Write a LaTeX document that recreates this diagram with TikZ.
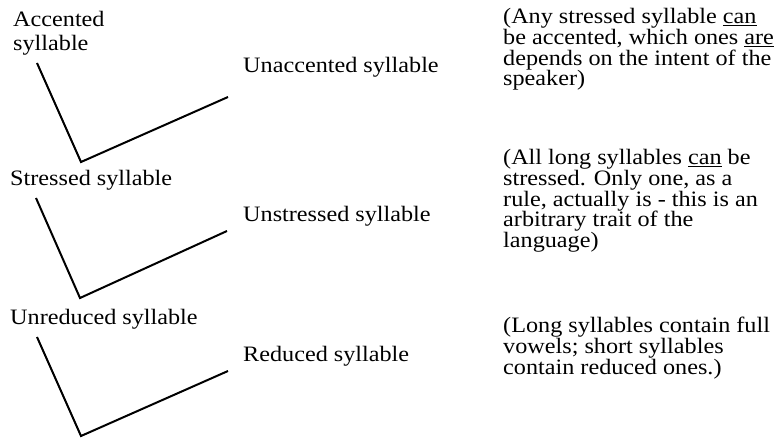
\documentclass[tikz,border=0pt]{standalone}
\usepackage{fontspec}
\setmainfont[FakeStretch=1.1]{Liberation Serif}
\begin{document}
\begin{tikzpicture}[x=1pt,y=-1pt,
  lbl/.style={anchor=base west,inner sep=0pt,font=\fontsize{22}{17.5}\selectfont},
  vline/.style={line width=2pt,line join=miter}]
\useasboundingbox (0,0) rectangle (777,438);
% left labels
\node[lbl] (acc) at (13,27) {\begin{tabular}[t]{@{}l@{}}Accented\\[3pt] syllable\end{tabular}};
\node[lbl] (str) at (10,186) {Stressed syllable};
\node[lbl] (unred) at (10,325) {Unreduced syllable};
% right labels
\node[lbl] (unacc) at (243,73) {Unaccented syllable};
\node[lbl] (unstr) at (243,222) {Unstressed syllable};
\node[lbl] (red) at (243,362) {Reduced syllable};
% comments
\node[lbl] (c1) at (503,24) {\begin{tabular}[t]{@{}l@{}}(Any stressed syllable \underline{can}\\ be accented, which ones \underline{are}\\ depends on the intent of the\\ speaker)\end{tabular}};
\node[lbl] (c2) at (503,165) {\begin{tabular}[t]{@{}l@{}}(All long syllables \underline{can} be\\ stressed. Only one, as a\\ rule, actually is - this is an\\ arbitrary trait of the\\ language)\end{tabular}};
\node[lbl] (c3) at (503,333) {\begin{tabular}[t]{@{}l@{}}(Long syllables contain full\\ vowels; short syllables\\ contain reduced ones.)\end{tabular}};
% V connectors
\coordinate (a1) at (37,63);  \coordinate (v1) at (81,162);  \coordinate (b1) at (228,97);
\coordinate (a2) at (36,198); \coordinate (v2) at (80,298);  \coordinate (b2) at (227,231);
\coordinate (a3) at (37,337); \coordinate (v3) at (81,436);  \coordinate (b3) at (228,371);
\draw[vline] (a1) -- (v1) -- (b1);
\draw[vline] (a2) -- (v2) -- (b2);
\draw[vline] (a3) -- (v3) -- (b3);
\end{tikzpicture}
\end{document}
